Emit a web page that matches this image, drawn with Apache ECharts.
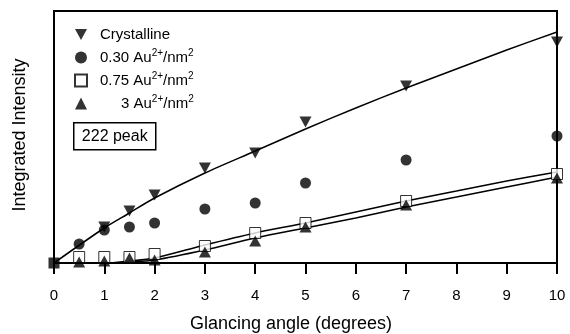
<!DOCTYPE html>
<html>
<head>
<meta charset="utf-8">
<script src="https://cdn.jsdelivr.net/npm/echarts@6/dist/echarts.min.js"></script>
<style>
  html, body { margin: 0; padding: 0; background: #fff; }
  #chart { width: 570px; height: 334px; }
</style>
</head>
<body>
<div id="chart"></div>
<script>
// measured data (arbitrary intensity units)
const angles = [0.5, 1, 1.5, 2, 3, 4, 5, 7, 10]
const crystAngles = [1, 1.5, 2, 3, 4, 5, 7, 10]
const crystalline = [36, 52, 68, 95, 110, 141, 177, 221]
const au030 = [19, 33, 36, 40, 54, 60, 80, 103, 127]
const au075 = [6, 6, 6, 9, 17, 30, 40, 62, 89]
const au3 = [1, 2, 5, 3, 11, 22, 36, 58, 85]
const origin = [[0, 0]]

// fitted curves
const fitAngles = [0, 1, 1.5, 2, 3, 4, 5, 6, 7, 8, 9, 10]
const crystFit = [0, 35, 50, 65, 90, 112, 134, 155, 175, 194, 213, 231]
const au075Fit = [0, 0, 2, 5, 18, 30, 40, 51, 62, 72, 82, 91]
const au3Fit = [0, 0, 1, 3, 13, 25, 35, 45, 56, 66, 76, 86]

const xTicks = [0, 1, 2, 3, 4, 5, 6, 7, 8, 9, 10]

const FONT = '"Liberation Sans", Arial, Helvetica, sans-serif'
const downTri = 'path://M0,0 L12,0 L6,11 Z'

const pair = (xs, ys) => xs.map((x, i) => [x, ys[i]])

const legendNames = {
  'Crystalline': null,
  '0.30 Au2+/nm2': '0.30',
  '0.75 Au2+/nm2': '0.75',
  '3 Au2+/nm2': '3'
}

const chart = echarts.init(document.getElementById('chart'), null, { renderer: 'canvas' })
chart.setOption({
  animation: false,
  textStyle: { fontFamily: FONT, color: '#000' },
  grid: {
    left: 54,
    right: 13,
    top: 11,
    bottom: 71,
    show: true,
    borderColor: '#000',
    borderWidth: 2
  },
  legend: {
    orient: 'vertical',
    left: 69,
    top: 22,
    itemWidth: 12,
    itemHeight: 12,
    itemGap: 6,
    data: Object.keys(legendNames),
    textStyle: {
      fontSize: 15,
      color: '#000',
      fontFamily: FONT,
      padding: [0, 0, 0, 8],
      rich: {
        p: { fontSize: 15, padding: [0, 0, 0, 21], fontFamily: FONT },
        t: { fontSize: 15, fontFamily: FONT },
        s: { fontSize: 10, verticalAlign: 'top', padding: [0, 0, 9, 0], fontFamily: FONT }
      }
    },
    formatter: name => {
      const num = legendNames[name]
      if (num === null) return name
      const head = num.length < 2 ? '{p|' + num + '}{t| Au}' : '{t|' + num + ' Au}'
      return head + '{s|2+}{t|/nm}{s|2}'
    }
  },
  xAxis: {
    type: 'value',
    min: 0,
    max: 10,
    interval: 1,
    splitLine: { show: false },
    axisLine: { onZero: false, lineStyle: { color: '#000', width: 2 } },
    axisTick: { inside: false, length: 11, lineStyle: { color: '#000', width: 2 } },
    axisLabel: {
      fontSize: 15,
      color: '#000',
      margin: 25,
      formatter: v => (xTicks.indexOf(v) >= 0 ? String(v) : '')
    }
  },
  yAxis: {
    type: 'value',
    min: 0,
    max: 252,
    splitLine: { show: false },
    axisLine: { show: true, lineStyle: { color: '#000', width: 2 } },
    axisTick: { show: false },
    axisLabel: { show: false }
  },
  series: [
    {
      name: 'crystFit',
      type: 'line',
      data: pair(fitAngles, crystFit),
      smooth: 0.3,
      showSymbol: false,
      lineStyle: { color: '#000', width: 1.5 },
      z: 2
    },
    {
      name: 'au075Fit',
      type: 'line',
      data: pair(fitAngles, au075Fit),
      smooth: 0.3,
      showSymbol: false,
      lineStyle: { color: '#000', width: 1.5 },
      z: 2
    },
    {
      name: 'au3Fit',
      type: 'line',
      data: pair(fitAngles, au3Fit),
      smooth: 0.3,
      showSymbol: false,
      lineStyle: { color: '#000', width: 1.5 },
      z: 2
    },
    {
      name: 'Crystalline',
      type: 'scatter',
      data: pair(crystAngles, crystalline),
      symbol: downTri,
      symbolSize: [12, 11],
      itemStyle: { color: '#000' },
      z: 3
    },
    {
      name: '0.30 Au2+/nm2',
      type: 'scatter',
      data: pair(angles, au030),
      symbol: 'circle',
      symbolSize: 11,
      itemStyle: { color: '#000' },
      z: 4
    },
    {
      name: '0.75 Au2+/nm2',
      type: 'scatter',
      data: pair(angles, au075),
      symbol: 'rect',
      symbolSize: 11,
      itemStyle: { color: '#fff', borderColor: '#000', borderWidth: 1 },
      z: 5
    },
    {
      name: '3 Au2+/nm2',
      type: 'scatter',
      data: pair(angles, au3),
      symbol: 'triangle',
      symbolSize: [12, 11],
      itemStyle: { color: '#000' },
      z: 6
    },
    {
      name: 'origin',
      type: 'scatter',
      data: origin,
      symbol: 'rect',
      symbolSize: 11,
      itemStyle: { color: '#000' },
      z: 7
    }
  ],
  graphic: [
    {
      type: 'group',
      left: 73,
      top: 122,
      children: [
        {
          type: 'rect',
          shape: { x: 0, y: 0, width: 82, height: 27 },
          style: { fill: '#fff', stroke: '#000', lineWidth: 1.5 }
        },
        {
          type: 'text',
          x: 41,
          y: 14,
          style: {
            text: '222 peak',
            font: '16px ' + FONT,
            fill: '#000',
            align: 'center',
            verticalAlign: 'middle'
          }
        }
      ]
    },
    {
      type: 'text',
      x: 291,
      y: 324,
      style: {
        text: 'Glancing angle (degrees)',
        font: '18px ' + FONT,
        fill: '#000',
        align: 'center',
        verticalAlign: 'middle'
      }
    },
    {
      type: 'text',
      x: 20,
      y: 135,
      rotation: Math.PI / 2,
      style: {
        text: 'Integrated Intensity',
        font: '18px ' + FONT,
        fill: '#000',
        align: 'center',
        verticalAlign: 'middle'
      }
    }
  ]
})
</script>
</body>
</html>
